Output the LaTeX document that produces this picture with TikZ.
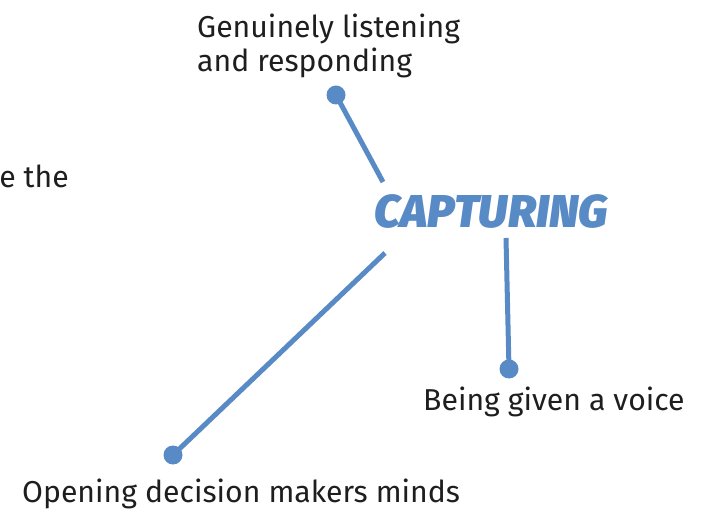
\documentclass[tikz,border=0pt]{standalone}
\usepackage{fontspec}
\setmainfont{Fira Sans}
\newfontface\capfont{Fira Sans Black Italic}
\definecolor{capblue}{RGB}{88,138,197}
\definecolor{txt}{RGB}{30,30,30}
\begin{document}
\begin{tikzpicture}[x=1pt,y=-1pt,
  lbl/.style={font=\fontsize{30.2}{33}\selectfont, text=txt, inner sep=0pt},
  conn/.style={draw=capblue, line width=5pt},
  dotc/.style={circle, fill=capblue, minimum size=19pt, inner sep=0pt}]
\useasboundingbox (0,0) rectangle (717,510);
\node[lbl, anchor=base west] (gen) at (197,38) {Genuinely listening};
\node[lbl, anchor=base west] (gen2) at (197,72) {and responding};
\node[lbl, anchor=base east] (eth) at (69,188) {e the};
\node[font=\capfont\fontsize{46}{50}\selectfont, text=capblue, inner sep=0pt, anchor=base west] (cap) at (374,228) {CAPTURING};
\node[lbl, anchor=base west] (voice) at (423,410) {Being given a voice};
\node[lbl, anchor=base west] (open) at (22,502) {Opening decision makers minds};
\node[dotc] (d1) at (336,95) {};
\node[dotc] (d2) at (509,369) {};
\node[dotc] (d3) at (173,455) {};
\coordinate (c1) at (383,182);
\coordinate (c2) at (506,238);
\coordinate (c3) at (385,253);
\draw[conn] (d1.center) -- (c1);
\draw[conn] (c2) -- (d2.center);
\draw[conn] (c3) -- (d3.center);
\end{tikzpicture}
\end{document}
